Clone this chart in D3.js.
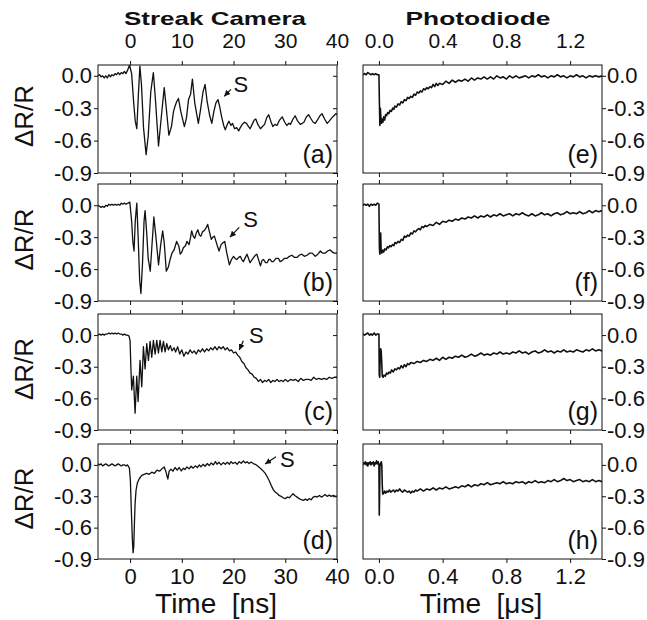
<!DOCTYPE html>
<html>
<head>
<meta charset="utf-8">
<script src="https://cdn.jsdelivr.net/npm/d3@7"></script>
<style>
  body { margin: 0; background: #fff; }
  svg { display: block; font-family: "Liberation Sans", Arial, sans-serif; }
</style>
</head>
<body>
<div id="chart"></div>
<script>
// tick values
const streakTicks = [0, 10, 20, 30, 40];
const diodeTicks = [0, 0.4, 0.8, 1.2];
const yTicks = [0, -0.3, -0.6, -0.9];
const yTops = [0.1, 0.2, 0.2, 0.2];
const streakLabels = ["(a)", "(b)", "(c)", "(d)"];
const diodeLabels = ["(e)", "(f)", "(g)", "(h)"];

// "S" marks on streak traces: [text t, text v, arrow from t, v, arrow to t, v]
const sMarks = [
  [20.0, -0.15, 19.5, -0.125, 18.2, -0.19],
  [21.9, -0.20, 21.1, -0.207, 19.3, -0.30],
  [23.0, -0.075, 21.9, -0.053, 21.1, -0.141],
  [29.0, -0.02, 28.2, 0.078, 26.1, 0.009]
];

// streak camera traces, [time ns, dR/R]
const traceA = [[-6.2,0.00],[-5.9,0.01],[-5.6,-0.01],[-5.3,0.00],[-5.0,-0.02],[-4.7,0.00],[-4.4,-0.02],[-4.1,0.01],[-3.8,-0.01],[-3.5,0.01],[-3.2,0.00],[-2.9,0.02],[-2.6,0.01],[-2.3,0.03],[-2.0,0.01],[-1.7,0.03],[-1.4,0.02],[-1.1,0.04],[-0.8,0.02],[-0.5,0.05],[-0.1,0.10],[0.3,0.02],[0.7,-0.25],[1.0,-0.42],[1.3,-0.49],[1.6,-0.18],[1.9,0.09],[2.2,-0.08],[2.6,-0.48],[3.1,-0.73],[3.5,-0.56],[4.0,-0.15],[4.5,0.03],[4.9,-0.22],[5.5,-0.65],[6.0,-0.40],[6.6,-0.11],[7.0,-0.30],[7.5,-0.55],[8.0,-0.47],[8.4,-0.33],[8.7,-0.28],[9.0,-0.24],[9.35,-0.21],[9.8,-0.33],[10.5,-0.47],[10.9,-0.39],[11.3,-0.22],[11.7,-0.17],[12.05,-0.03],[12.5,-0.25],[12.9,-0.36],[13.2,-0.44],[13.6,-0.32],[14.1,-0.15],[14.5,-0.08],[14.9,-0.24],[15.4,-0.37],[15.8,-0.44],[16.2,-0.33],[16.6,-0.25],[17.0,-0.22],[17.3,-0.28],[17.7,-0.38],[18.1,-0.46],[18.4,-0.50],[18.8,-0.45],[19.1,-0.42],[19.5,-0.46],[19.8,-0.44],[20.2,-0.49],[20.6,-0.48],[21.0,-0.51],[21.3,-0.48],[21.7,-0.45],[22.1,-0.43],[22.5,-0.44],[22.9,-0.47],[23.2,-0.49],[23.6,-0.45],[24.0,-0.41],[24.3,-0.40],[24.7,-0.45],[25.2,-0.49],[25.6,-0.47],[26.0,-0.45],[26.4,-0.39],[26.8,-0.36],[27.2,-0.42],[27.6,-0.47],[28.0,-0.45],[28.4,-0.46],[28.9,-0.41],[29.4,-0.38],[29.9,-0.43],[30.3,-0.46],[30.7,-0.44],[31.0,-0.45],[31.5,-0.40],[31.9,-0.37],[32.4,-0.42],[32.9,-0.45],[33.3,-0.44],[33.6,-0.43],[34.1,-0.38],[34.5,-0.36],[35.0,-0.40],[35.4,-0.43],[35.8,-0.44],[36.2,-0.41],[36.7,-0.37],[37.1,-0.35],[37.6,-0.40],[38.1,-0.44],[38.5,-0.42],[39.0,-0.39],[39.4,-0.37],[39.8,-0.35],[40.0,-0.36]];

const traceB = [[-6.2,0.00],[-5.9,-0.01],[-5.6,-0.02],[-5.3,-0.01],[-5.0,-0.02],[-4.7,0.00],[-4.4,-0.01],[-4.1,0.01],[-3.8,0.00],[-3.5,0.01],[-3.2,0.00],[-2.9,0.01],[-2.6,0.00],[-2.3,0.01],[-2.0,0.00],[-1.7,0.02],[-1.4,0.01],[-1.1,0.02],[-0.8,0.01],[-0.4,0.02],[-0.05,0.03],[0.3,-0.15],[0.55,-0.35],[0.77,-0.43],[1.0,-0.15],[1.3,0.02],[1.6,-0.35],[1.85,-0.70],[2.1,-0.83],[2.4,-0.55],[2.7,-0.15],[2.9,-0.05],[3.2,-0.25],[3.5,-0.50],[3.9,-0.62],[4.2,-0.40],[4.6,-0.11],[5.0,-0.30],[5.5,-0.56],[5.9,-0.38],[6.3,-0.24],[6.6,-0.35],[7.0,-0.62],[7.4,-0.58],[7.8,-0.50],[8.1,-0.45],[8.5,-0.42],[9.0,-0.34],[9.4,-0.38],[9.7,-0.46],[10.0,-0.44],[10.3,-0.40],[10.7,-0.38],[11.0,-0.34],[11.4,-0.37],[11.7,-0.30],[11.9,-0.24],[12.2,-0.29],[12.5,-0.31],[12.8,-0.26],[13.1,-0.23],[13.4,-0.28],[13.7,-0.29],[14.0,-0.25],[14.3,-0.24],[14.6,-0.22],[15.0,-0.18],[15.3,-0.24],[15.7,-0.32],[16.0,-0.30],[16.3,-0.29],[16.8,-0.37],[17.2,-0.43],[17.6,-0.37],[18.0,-0.35],[18.3,-0.34],[18.7,-0.45],[19.2,-0.56],[19.6,-0.51],[20.0,-0.48],[20.3,-0.50],[20.6,-0.51],[21.0,-0.49],[21.3,-0.48],[21.6,-0.51],[21.9,-0.53],[22.3,-0.49],[22.6,-0.46],[22.9,-0.50],[23.2,-0.54],[23.6,-0.51],[23.9,-0.49],[24.2,-0.47],[24.5,-0.46],[24.9,-0.52],[25.2,-0.57],[25.5,-0.52],[25.8,-0.51],[26.2,-0.54],[26.5,-0.54],[26.8,-0.51],[27.1,-0.51],[27.4,-0.53],[27.7,-0.53],[28.2,-0.50],[28.7,-0.50],[29.0,-0.53],[29.4,-0.52],[29.8,-0.50],[30.3,-0.50],[30.8,-0.48],[31.3,-0.47],[31.8,-0.49],[32.3,-0.49],[32.7,-0.47],[33.2,-0.46],[33.7,-0.48],[34.2,-0.47],[34.7,-0.45],[35.2,-0.45],[35.8,-0.48],[36.3,-0.46],[36.8,-0.43],[37.2,-0.45],[37.7,-0.45],[38.2,-0.43],[38.7,-0.42],[39.1,-0.44],[39.5,-0.45],[40.0,-0.45]];

const traceC = [[-6.2,0.00],[-5.9,0.01],[-5.6,0.00],[-5.3,0.01],[-5.0,0.00],[-4.7,0.01],[-4.4,0.01],[-4.1,0.02],[-3.8,0.01],[-3.5,0.02],[-3.2,0.01],[-2.9,0.02],[-2.6,0.01],[-2.3,0.02],[-2.0,0.01],[-1.7,0.01],[-1.4,0.00],[-1.1,0.01],[-0.8,0.00],[-0.5,0.00],[-0.2,-0.01],[0.0,-0.05],[0.15,-0.30],[0.32,-0.52],[0.48,-0.45],[0.64,-0.39],[0.97,-0.74],[1.29,-0.39],[1.55,-0.63],[1.93,-0.24],[2.26,-0.49],[2.58,-0.11],[2.9,-0.32],[3.22,-0.08],[3.55,-0.24],[3.87,-0.06],[4.19,-0.21],[4.51,-0.05],[4.84,-0.18],[5.16,-0.05],[5.48,-0.17],[5.8,-0.05],[6.13,-0.16],[6.45,-0.06],[6.77,-0.16],[7.09,-0.08],[7.41,-0.14],[7.8,-0.10],[8.1,-0.15],[8.5,-0.12],[8.8,-0.16],[9.2,-0.11],[9.6,-0.18],[10.0,-0.14],[10.4,-0.20],[10.8,-0.16],[11.2,-0.18],[11.6,-0.14],[12.0,-0.17],[12.4,-0.15],[12.8,-0.18],[13.2,-0.14],[13.6,-0.16],[14.0,-0.13],[14.4,-0.16],[14.8,-0.13],[15.2,-0.15],[15.6,-0.12],[16.0,-0.14],[16.4,-0.11],[16.8,-0.14],[17.2,-0.11],[17.6,-0.13],[18.0,-0.11],[18.4,-0.14],[18.8,-0.12],[19.2,-0.15],[19.6,-0.14],[20.0,-0.17],[20.4,-0.16],[20.8,-0.19],[21.2,-0.21],[21.6,-0.25],[22.0,-0.27],[22.4,-0.31],[22.8,-0.33],[23.2,-0.36],[23.6,-0.37],[24.0,-0.40],[24.4,-0.41],[24.8,-0.44],[25.2,-0.42],[25.6,-0.45],[26.0,-0.43],[26.4,-0.44],[26.8,-0.42],[27.2,-0.45],[27.6,-0.43],[28.0,-0.44],[28.4,-0.42],[28.8,-0.44],[29.2,-0.43],[29.6,-0.44],[30.0,-0.42],[30.5,-0.44],[31.0,-0.42],[31.5,-0.43],[32.0,-0.42],[32.5,-0.44],[33.0,-0.41],[33.5,-0.43],[34.0,-0.42],[34.5,-0.42],[35.0,-0.43],[35.5,-0.40],[36.0,-0.42],[36.5,-0.41],[37.0,-0.42],[37.5,-0.41],[38.0,-0.42],[38.5,-0.40],[39.0,-0.41],[39.5,-0.40],[40.0,-0.40]];

const traceD = [[-6.2,0.01],[-5.9,0.00],[-5.6,0.01],[-5.3,-0.01],[-5.0,0.00],[-4.7,0.01],[-4.4,0.00],[-4.1,-0.01],[-3.8,0.00],[-3.5,0.01],[-3.2,0.00],[-2.9,-0.01],[-2.6,0.00],[-2.3,0.01],[-2.0,0.00],[-1.7,-0.01],[-1.4,0.00],[-1.1,0.00],[-0.8,-0.01],[-0.5,0.00],[-0.13,-0.03],[0.06,-0.15],[0.26,-0.46],[0.45,-0.72],[0.58,-0.84],[0.71,-0.78],[0.84,-0.56],[0.97,-0.37],[1.16,-0.24],[1.42,-0.17],[1.8,-0.13],[2.26,-0.10],[2.7,-0.09],[3.2,-0.08],[3.7,-0.09],[4.2,-0.07],[4.7,-0.08],[5.2,-0.05],[5.7,-0.06],[6.1,-0.04],[6.6,-0.02],[6.9,-0.06],[7.3,-0.135],[7.55,-0.06],[7.9,-0.04],[8.3,-0.06],[8.7,-0.025],[9.1,-0.05],[9.5,-0.025],[9.9,-0.057],[10.3,-0.031],[10.6,-0.044],[11.0,-0.019],[11.4,-0.038],[11.8,-0.013],[12.2,-0.031],[12.6,-0.009],[13.0,-0.025],[13.4,0.0],[13.7,-0.019],[14.1,0.006],[14.5,-0.013],[14.9,0.013],[15.3,-0.006],[15.7,0.019],[16.1,0.0],[16.5,0.031],[16.8,0.006],[17.2,0.025],[17.6,0.0],[18.0,0.022],[18.4,0.006],[18.8,0.025],[19.2,0.006],[19.5,0.031],[19.9,0.013],[20.3,0.025],[20.7,0.006],[21.1,0.031],[21.5,0.016],[21.9,0.038],[22.3,0.019],[22.6,0.031],[23.0,0.013],[23.4,0.028],[23.8,0.013],[24.2,0.006],[24.6,-0.009],[25.0,-0.025],[25.4,-0.041],[25.7,-0.057],[26.1,-0.079],[26.5,-0.113],[26.9,-0.151],[27.3,-0.198],[27.7,-0.239],[28.1,-0.261],[28.5,-0.276],[28.8,-0.292],[29.2,-0.301],[29.6,-0.314],[30.0,-0.323],[30.4,-0.308],[30.8,-0.314],[31.2,-0.292],[31.5,-0.276],[31.9,-0.295],[32.3,-0.308],[32.7,-0.323],[33.1,-0.333],[33.5,-0.339],[33.9,-0.327],[34.3,-0.339],[34.6,-0.323],[35.0,-0.333],[35.4,-0.308],[35.8,-0.301],[36.2,-0.308],[36.6,-0.292],[37.0,-0.308],[37.4,-0.295],[37.7,-0.283],[38.1,-0.301],[38.5,-0.289],[38.9,-0.301],[39.3,-0.292],[39.7,-0.301],[40.0,-0.298]];

// photodiode traces, [time us, dR/R]
const traceE = [[-0.1,0.01],[-0.09,0.02],[-0.08,0.01],[-0.07,0.03],[-0.06,0.02],[-0.05,0.01],[-0.04,0.02],[-0.03,0.01],[-0.02,0.02],[-0.01,0.01],[0.0,0.01],[0.003,-0.25],[0.006,-0.46],[0.009,-0.30],[0.012,-0.38],[0.016,-0.44],[0.02,-0.40],[0.025,-0.43],[0.03,-0.38],[0.036,-0.41],[0.042,-0.36],[0.048,-0.37],[0.055,-0.34],[0.062,-0.35],[0.07,-0.32],[0.078,-0.33],[0.086,-0.30],[0.094,-0.31],[0.10,-0.28],[0.11,-0.29],[0.12,-0.26],[0.13,-0.27],[0.14,-0.24],[0.15,-0.25],[0.16,-0.22],[0.17,-0.23],[0.18,-0.20],[0.19,-0.21],[0.20,-0.19],[0.21,-0.20],[0.22,-0.17],[0.23,-0.18],[0.24,-0.15],[0.25,-0.16],[0.26,-0.14],[0.27,-0.15],[0.28,-0.12],[0.29,-0.13],[0.30,-0.11],[0.31,-0.12],[0.32,-0.10],[0.33,-0.11],[0.34,-0.08],[0.35,-0.10],[0.36,-0.07],[0.37,-0.09],[0.38,-0.07],[0.40,-0.08],[0.42,-0.05],[0.44,-0.07],[0.46,-0.04],[0.48,-0.06],[0.50,-0.04],[0.52,-0.05],[0.54,-0.03],[0.56,-0.05],[0.58,-0.02],[0.60,-0.04],[0.62,-0.02],[0.64,-0.03],[0.66,-0.01],[0.68,-0.03],[0.70,-0.01],[0.72,-0.03],[0.74,0.00],[0.76,-0.02],[0.78,-0.01],[0.80,-0.03],[0.82,0.00],[0.84,-0.02],[0.86,0.00],[0.88,-0.02],[0.90,-0.01],[0.92,0.00],[0.94,-0.02],[0.96,0.00],[0.98,-0.01],[1.00,0.01],[1.02,-0.01],[1.04,0.00],[1.06,-0.02],[1.08,0.00],[1.10,-0.01],[1.12,0.01],[1.14,-0.01],[1.16,0.00],[1.18,-0.02],[1.20,0.00],[1.22,-0.01],[1.24,0.01],[1.26,-0.01],[1.28,0.00],[1.30,-0.02],[1.32,0.00],[1.34,-0.01],[1.36,0.00],[1.38,-0.01],[1.40,0.00]];

const traceF = [[-0.1,0.00],[-0.09,0.01],[-0.08,0.00],[-0.07,0.01],[-0.06,-0.01],[-0.05,0.01],[-0.04,0.00],[-0.03,0.01],[-0.02,0.00],[-0.01,0.02],[0.0,0.01],[0.003,-0.40],[0.006,-0.46],[0.009,-0.30],[0.011,-0.26],[0.014,-0.44],[0.018,-0.45],[0.024,-0.42],[0.03,-0.44],[0.037,-0.41],[0.045,-0.42],[0.053,-0.39],[0.06,-0.40],[0.068,-0.38],[0.076,-0.39],[0.085,-0.37],[0.094,-0.38],[0.10,-0.35],[0.11,-0.36],[0.12,-0.34],[0.13,-0.35],[0.14,-0.32],[0.15,-0.33],[0.16,-0.29],[0.17,-0.30],[0.18,-0.28],[0.19,-0.29],[0.20,-0.26],[0.21,-0.27],[0.22,-0.24],[0.23,-0.25],[0.24,-0.23],[0.25,-0.22],[0.26,-0.23],[0.27,-0.20],[0.28,-0.21],[0.29,-0.19],[0.30,-0.20],[0.32,-0.18],[0.34,-0.19],[0.36,-0.16],[0.38,-0.18],[0.40,-0.15],[0.42,-0.16],[0.44,-0.14],[0.46,-0.15],[0.48,-0.13],[0.50,-0.14],[0.52,-0.12],[0.54,-0.13],[0.56,-0.11],[0.58,-0.12],[0.60,-0.10],[0.62,-0.12],[0.64,-0.10],[0.66,-0.11],[0.68,-0.09],[0.70,-0.11],[0.72,-0.09],[0.74,-0.10],[0.76,-0.08],[0.78,-0.10],[0.80,-0.09],[0.82,-0.08],[0.84,-0.10],[0.86,-0.08],[0.88,-0.09],[0.90,-0.07],[0.92,-0.09],[0.94,-0.10],[0.96,-0.08],[0.98,-0.10],[1.00,-0.09],[1.02,-0.07],[1.04,-0.09],[1.06,-0.08],[1.08,-0.10],[1.10,-0.08],[1.12,-0.07],[1.14,-0.09],[1.16,-0.08],[1.18,-0.06],[1.20,-0.08],[1.22,-0.07],[1.24,-0.08],[1.26,-0.06],[1.28,-0.08],[1.30,-0.07],[1.32,-0.05],[1.34,-0.07],[1.36,-0.05],[1.38,-0.06],[1.40,-0.05]];

const traceG = [[-0.1,0.01],[-0.09,0.00],[-0.08,0.01],[-0.07,0.02],[-0.06,0.00],[-0.05,0.01],[-0.04,0.00],[-0.03,0.02],[-0.02,0.00],[-0.01,0.01],[0.0,0.01],[0.002,-0.38],[0.005,-0.40],[0.008,-0.20],[0.011,-0.13],[0.014,-0.15],[0.017,-0.24],[0.021,-0.39],[0.026,-0.40],[0.032,-0.38],[0.04,-0.39],[0.048,-0.36],[0.056,-0.37],[0.064,-0.35],[0.072,-0.36],[0.08,-0.33],[0.09,-0.35],[0.10,-0.32],[0.11,-0.33],[0.12,-0.31],[0.13,-0.32],[0.14,-0.29],[0.15,-0.31],[0.16,-0.28],[0.17,-0.30],[0.18,-0.27],[0.19,-0.28],[0.20,-0.26],[0.22,-0.27],[0.24,-0.25],[0.26,-0.26],[0.28,-0.24],[0.30,-0.25],[0.32,-0.23],[0.34,-0.24],[0.36,-0.22],[0.38,-0.24],[0.40,-0.21],[0.42,-0.23],[0.44,-0.21],[0.46,-0.22],[0.48,-0.20],[0.50,-0.21],[0.52,-0.19],[0.54,-0.21],[0.56,-0.20],[0.58,-0.18],[0.60,-0.20],[0.62,-0.19],[0.64,-0.17],[0.66,-0.19],[0.68,-0.18],[0.70,-0.19],[0.72,-0.17],[0.74,-0.18],[0.76,-0.16],[0.78,-0.18],[0.80,-0.17],[0.82,-0.18],[0.84,-0.16],[0.86,-0.17],[0.88,-0.15],[0.90,-0.17],[0.92,-0.16],[0.94,-0.18],[0.96,-0.16],[0.98,-0.15],[1.00,-0.17],[1.02,-0.16],[1.04,-0.14],[1.06,-0.16],[1.08,-0.15],[1.10,-0.17],[1.12,-0.15],[1.14,-0.16],[1.16,-0.14],[1.18,-0.16],[1.20,-0.15],[1.22,-0.16],[1.24,-0.14],[1.26,-0.15],[1.28,-0.16],[1.30,-0.14],[1.32,-0.15],[1.34,-0.13],[1.36,-0.15],[1.38,-0.14],[1.40,-0.15]];

const traceH = [[-0.1,0.00],[-0.095,0.02],[-0.09,0.01],[-0.085,0.03],[-0.08,0.00],[-0.075,0.02],[-0.07,-0.01],[-0.065,0.02],[-0.06,0.01],[-0.055,0.03],[-0.05,0.00],[-0.045,0.02],[-0.04,0.01],[-0.035,0.03],[-0.03,-0.01],[-0.025,0.02],[-0.02,0.01],[-0.015,0.04],[-0.01,0.01],[-0.005,0.03],[0.0,0.00],[0.002,-0.48],[0.004,-0.30],[0.006,-0.02],[0.009,0.01],[0.012,0.02],[0.015,0.03],[0.018,0.00],[0.021,-0.20],[0.024,-0.28],[0.03,-0.27],[0.036,-0.25],[0.042,-0.27],[0.05,-0.25],[0.058,-0.26],[0.066,-0.24],[0.074,-0.26],[0.082,-0.25],[0.09,-0.24],[0.10,-0.26],[0.11,-0.24],[0.12,-0.25],[0.13,-0.23],[0.14,-0.25],[0.15,-0.26],[0.16,-0.24],[0.17,-0.25],[0.18,-0.26],[0.19,-0.25],[0.20,-0.27],[0.21,-0.25],[0.22,-0.26],[0.23,-0.24],[0.24,-0.25],[0.26,-0.23],[0.28,-0.25],[0.30,-0.23],[0.32,-0.24],[0.34,-0.22],[0.36,-0.24],[0.38,-0.22],[0.40,-0.23],[0.42,-0.21],[0.44,-0.23],[0.46,-0.22],[0.48,-0.21],[0.50,-0.22],[0.52,-0.20],[0.54,-0.21],[0.56,-0.19],[0.58,-0.21],[0.60,-0.19],[0.62,-0.20],[0.64,-0.18],[0.66,-0.19],[0.68,-0.17],[0.70,-0.19],[0.72,-0.18],[0.74,-0.17],[0.76,-0.18],[0.78,-0.16],[0.80,-0.18],[0.82,-0.17],[0.84,-0.18],[0.86,-0.16],[0.88,-0.17],[0.90,-0.16],[0.92,-0.18],[0.94,-0.16],[0.96,-0.17],[0.98,-0.15],[1.00,-0.17],[1.02,-0.16],[1.04,-0.17],[1.06,-0.15],[1.08,-0.16],[1.10,-0.14],[1.12,-0.16],[1.14,-0.15],[1.16,-0.13],[1.18,-0.15],[1.20,-0.14],[1.22,-0.16],[1.24,-0.15],[1.26,-0.14],[1.28,-0.16],[1.30,-0.15],[1.32,-0.16],[1.34,-0.14],[1.36,-0.16],[1.38,-0.15],[1.40,-0.16]];

const streakTraces = [traceA, traceB, traceC, traceD];
const diodeTraces = [traceE, traceF, traceG, traceH];

const width = 647, height = 620;
const cols = [[98, 337], [363, 602]];
const rows = [[65, 173], [184, 301], [314, 430], [444, 559]];
const fmt = v => v.toFixed(1);
const fmtX = v => String(v);

const svg = d3.select("#chart").append("svg")
    .attr("width", width)
    .attr("height", height);

svg.append("rect").attr("width", width).attr("height", height).attr("fill", "#fff");

const defs = svg.append("defs");
defs.append("marker")
    .attr("id", "arrow")
    .attr("markerUnits", "userSpaceOnUse")
    .attr("viewBox", "0 0 6 6")
    .attr("refX", 6).attr("refY", 3)
    .attr("markerWidth", 6).attr("markerHeight", 6)
    .attr("orient", "auto")
    .append("path")
    .attr("d", "M0,0L6,3L0,6z")
    .attr("fill", "#111");

const xStreak = d3.scaleLinear().domain([-6.2, 40]).range(cols[0]);
const xDiode = d3.scaleLinear().domain([-0.1, 1.4]).range(cols[1]);

const styleAxis = (g, size) => {
    g.select(".domain").remove();
    g.selectAll("line").attr("stroke", "#111");
    g.selectAll("text").attr("fill", "#111").attr("font-size", size);
};

const drawPanel = (trace, x, col, r, xTicks, xFmt, label, side) => {
    const [top, bottom] = rows[r];
    const [left, right] = cols[col];
    const y = d3.scaleLinear().domain([-0.9, yTops[r]]).range([bottom, top]);

    const clipId = `clip-${col}-${r}`;
    defs.append("clipPath").attr("id", clipId)
        .append("rect").attr("x", left).attr("y", top)
        .attr("width", right - left).attr("height", bottom - top);

    // top and bottom time axes
    svg.append("g").attr("transform", `translate(0,${top})`)
        .call(d3.axisTop(x).tickValues(xTicks).tickSize(4).tickPadding(13)
            .tickFormat(r === 0 ? xFmt : ""))
        .call(g => styleAxis(g, "21px"));
    svg.append("g").attr("transform", `translate(0,${bottom})`)
        .call(d3.axisBottom(x).tickValues(xTicks).tickSize(4).tickPadding(5)
            .tickFormat(r === 3 ? xFmt : ""))
        .call(g => styleAxis(g, "22px"));

    // value axes
    if (side === "left") {
        svg.append("g").attr("transform", `translate(${left},0)`)
            .call(d3.axisLeft(y).tickValues(yTicks).tickSize(4).tickPadding(2).tickFormat(fmt))
            .call(g => styleAxis(g, "22px"));
        svg.append("g").attr("transform", `translate(${right},0)`)
            .call(d3.axisRight(y).tickValues(yTicks).tickSize(-4).tickFormat(""))
            .call(g => styleAxis(g, "22px"));
    } else {
        svg.append("g").attr("transform", `translate(${right},0)`)
            .call(d3.axisRight(y).tickValues(yTicks).tickSize(4).tickPadding(1).tickFormat(fmt))
            .call(g => styleAxis(g, "22px"));
    }

    svg.append("path")
        .datum(trace)
        .attr("clip-path", `url(#${clipId})`)
        .attr("fill", "none")
        .attr("stroke", "#111")
        .attr("stroke-width", side === "left" ? 1.3 : 1.6)
        .attr("stroke-linejoin", "round")
        .attr("d", d3.line().x(d => x(d[0])).y(d => y(d[1])));

    svg.append("rect")
        .attr("x", left).attr("y", top)
        .attr("width", right - left).attr("height", bottom - top)
        .attr("fill", "none").attr("stroke", "#111").attr("stroke-width", 1);

    svg.append("text")
        .attr("x", right - 4).attr("y", bottom - 10)
        .attr("text-anchor", "end")
        .attr("font-size", "25px")
        .attr("fill", "#111")
        .text(label);

    if (side === "left") {
        svg.append("text")
            .attr("transform", `translate(33,${(top + bottom) / 2 - 3}) rotate(-90)`)
            .attr("text-anchor", "middle")
            .attr("font-size", "26px")
            .attr("fill", "#111")
            .text("ΔR/R");

        const m = sMarks[r];
        svg.append("text")
            .attr("x", x(m[0])).attr("y", y(m[1]))
            .attr("font-size", "22px")
            .attr("fill", "#111")
            .text("S");
        svg.append("line")
            .attr("x1", x(m[2])).attr("y1", y(m[3]))
            .attr("x2", x(m[4])).attr("y2", y(m[5]))
            .attr("stroke", "#111").attr("stroke-width", 1.2)
            .attr("marker-end", "url(#arrow)");
    }
};

streakTraces.forEach((t, i) => drawPanel(t, xStreak, 0, i, streakTicks, fmtX, streakLabels[i], "left"));
diodeTraces.forEach((t, i) => drawPanel(t, xDiode, 1, i, diodeTicks, fmt, diodeLabels[i], "right"));

// column titles
svg.append("text")
    .attr("x", 215).attr("y", 25)
    .attr("text-anchor", "middle")
    .attr("font-size", "19px").attr("font-weight", "bold")
    .attr("textLength", 182).attr("lengthAdjust", "spacingAndGlyphs")
    .attr("fill", "#111")
    .text("Streak Camera");
svg.append("text")
    .attr("x", 478).attr("y", 25)
    .attr("text-anchor", "middle")
    .attr("font-size", "19px").attr("font-weight", "bold")
    .attr("textLength", 145).attr("lengthAdjust", "spacingAndGlyphs")
    .attr("fill", "#111")
    .text("Photodiode");

// time axis titles
svg.append("text")
    .attr("x", 216).attr("y", 613)
    .attr("text-anchor", "middle")
    .attr("font-size", "28px")
    .attr("fill", "#111")
    .text("Time  [ns]")
    .style("white-space", "pre");
svg.append("text")
    .attr("x", 481).attr("y", 613)
    .attr("text-anchor", "middle")
    .attr("font-size", "28px")
    .attr("fill", "#111")
    .text("Time  [μs]")
    .style("white-space", "pre");
</script>
</body>
</html>
